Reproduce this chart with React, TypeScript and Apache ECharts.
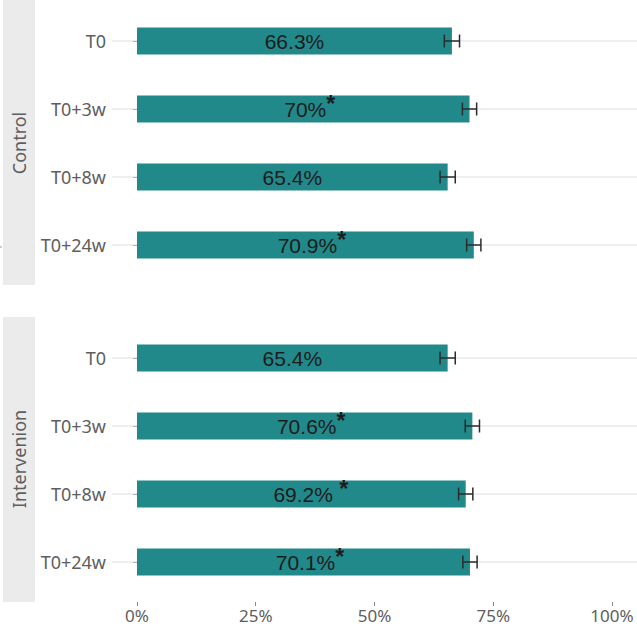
import React, { useEffect, useRef } from "react";
import * as echarts from "echarts";

const categories = ["T0", "T0+3w", "T0+8w", "T0+24w"];
const controlValues = [66.3, 70, 65.4, 70.9];
const controlErrors = [1.6, 1.5, 1.6, 1.5];
const controlMarks = ["", "*", "", "*"];
const interventionValues = [65.4, 70.6, 69.2, 70.1];
const interventionErrors = [1.6, 1.5, 1.5, 1.5];
const interventionMarks = ["", "*", " *", "*"];
const panelNames = ["Control", "Intervenion"];
const xTicks = [0, 25, 50, 75, 100];

const BAR = "#22898A";
const AXIS_TEXT = "#5e5e5e";
const FONT = "Noto Sans";

function makeBarSeries(values: number[], marks: string[], idx: number) {
  return {
    type: "bar",
    xAxisIndex: idx,
    yAxisIndex: idx,
    barWidth: 27,
    z: 2,
    itemStyle: { color: BAR },
    data: values.map((v, i) => ({
      value: v,
      label: {
        show: true,
        position: "inside",
        formatter: marks[i]
          ? `{pad|}{v|${v}%}{s|${marks[i]}}`
          : `{v|${v}%}`,
        rich: {
          v: { fontSize: 21, color: "#1c1c1c", fontFamily: "Liberation Sans", lineHeight: 24 },
          s: { fontSize: 23, fontWeight: "bold", color: "#1c1c1c", fontFamily: "Liberation Sans", padding: [0, 0, 10, 0], lineHeight: 24 },
          pad: { width: marks[i] === " *" ? 19 : 13 },
        },
      },
    })),
  };
}

function makeGridSeries(idx: number) {
  return {
    type: "custom",
    xAxisIndex: idx,
    yAxisIndex: idx,
    z: 1,
    silent: true,
    data: categories.map((_, i) => [0, i]),
    renderItem: (params: any, api: any) => {
      const cs = params.coordSys;
      const y = api.coord([0, api.value(1)])[1];
      return {
        type: "line",
        shape: { x1: cs.x, y1: y, x2: cs.x + cs.width, y2: y },
        style: { stroke: "#dedede", lineWidth: 1 },
      };
    },
  };
}

function makeErrorSeries(values: number[], errors: number[], idx: number) {
  return {
    type: "custom",
    xAxisIndex: idx,
    yAxisIndex: idx,
    z: 3,
    silent: true,
    encode: { x: [0, 1], y: 2 },
    data: values.map((v, i) => [v - errors[i], v + errors[i], i]),
    renderItem: (params: any, api: any) => {
      const a = api.coord([api.value(0), api.value(2)]);
      const b = api.coord([api.value(1), api.value(2)]);
      const h = 6.5;
      const st = { stroke: "#2b2b2b", lineWidth: 1.5 };
      return {
        type: "group",
        children: [
          { type: "line", shape: { x1: a[0], y1: a[1], x2: b[0], y2: b[1] }, style: st },
          { type: "line", shape: { x1: a[0], y1: a[1] - h, x2: a[0], y2: a[1] + h }, style: st },
          { type: "line", shape: { x1: b[0], y1: b[1] - h, x2: b[0], y2: b[1] + h }, style: st },
        ],
      };
    },
  };
}

export default function App() {
  const ref = useRef<HTMLDivElement>(null);
  useEffect(() => {
    if (!ref.current) return;
    const chart = echarts.init(ref.current, null, { renderer: "svg" });
    const xAxisBase = (idx: number) => ({
      type: "value",
      gridIndex: idx,
      min: -5.26,
      max: 105.26,
      splitLine: { show: false },
      axisLine: { show: false },
      offset: 6,
      axisTick: {
        show: idx === 1,
        length: 4,
        lineStyle: { color: "#888" },
        customValues: xTicks,
      },
      axisLabel: {
        show: idx === 1,
        customValues: xTicks,
        formatter: (v: number) => `${v}%`,
        color: AXIS_TEXT,
        fontSize: 17,
        fontFamily: FONT,
        margin: 5,
      },
    });
    const yAxisBase = (idx: number) => ({
      type: "category",
      gridIndex: idx,
      data: categories,
      inverse: true,
      axisLine: { show: false },
      axisTick: { show: true, alignWithLabel: true, length: 4, lineStyle: { color: "#888" } },
      axisLabel: { color: AXIS_TEXT, fontSize: 18, fontFamily: FONT, margin: 6 },
      splitLine: { show: false },
    });
    chart.setOption({
      animation: false,
      grid: [
        { left: 112, right: 0, top: 7, height: 272 },
        { left: 112, right: 0, top: 324, height: 272 },
      ],
      xAxis: [xAxisBase(0), xAxisBase(1)],
      yAxis: [yAxisBase(0), yAxisBase(1)],
      graphic: [
        { type: "rect", shape: { x: 3, y: 0, width: 32, height: 285 }, style: { fill: "#ebebeb" }, silent: true },
        { type: "rect", shape: { x: 3, y: 317, width: 32, height: 285 }, style: { fill: "#ebebeb" }, silent: true },
        {
          type: "text", x: 19, y: 143, rotation: Math.PI / 2,
          style: { text: panelNames[0], fill: AXIS_TEXT, fontSize: 18, fontFamily: FONT, textAlign: "center", textVerticalAlign: "middle" },
        },
        {
          type: "text", x: 19, y: 459, rotation: Math.PI / 2,
          style: { text: panelNames[1], fill: AXIS_TEXT, fontSize: 18, fontFamily: FONT, textAlign: "center", textVerticalAlign: "middle" },
        },
        { type: "line", shape: { x1: 0, y1: 247, x2: 2, y2: 247 }, style: { stroke: "#999", lineWidth: 1 } },
      ],
      series: [
        makeGridSeries(0),
        makeBarSeries(controlValues, controlMarks, 0),
        makeErrorSeries(controlValues, controlErrors, 0),
        makeGridSeries(1),
        makeBarSeries(interventionValues, interventionMarks, 1),
        makeErrorSeries(interventionValues, interventionErrors, 1),
      ],
    });
    return () => chart.dispose();
  }, []);
  return (
    <div
      ref={ref}
      style={{ position: "fixed", left: 0, top: 0, width: 637, height: 626, background: "#fff" }}
    />
  );
}
